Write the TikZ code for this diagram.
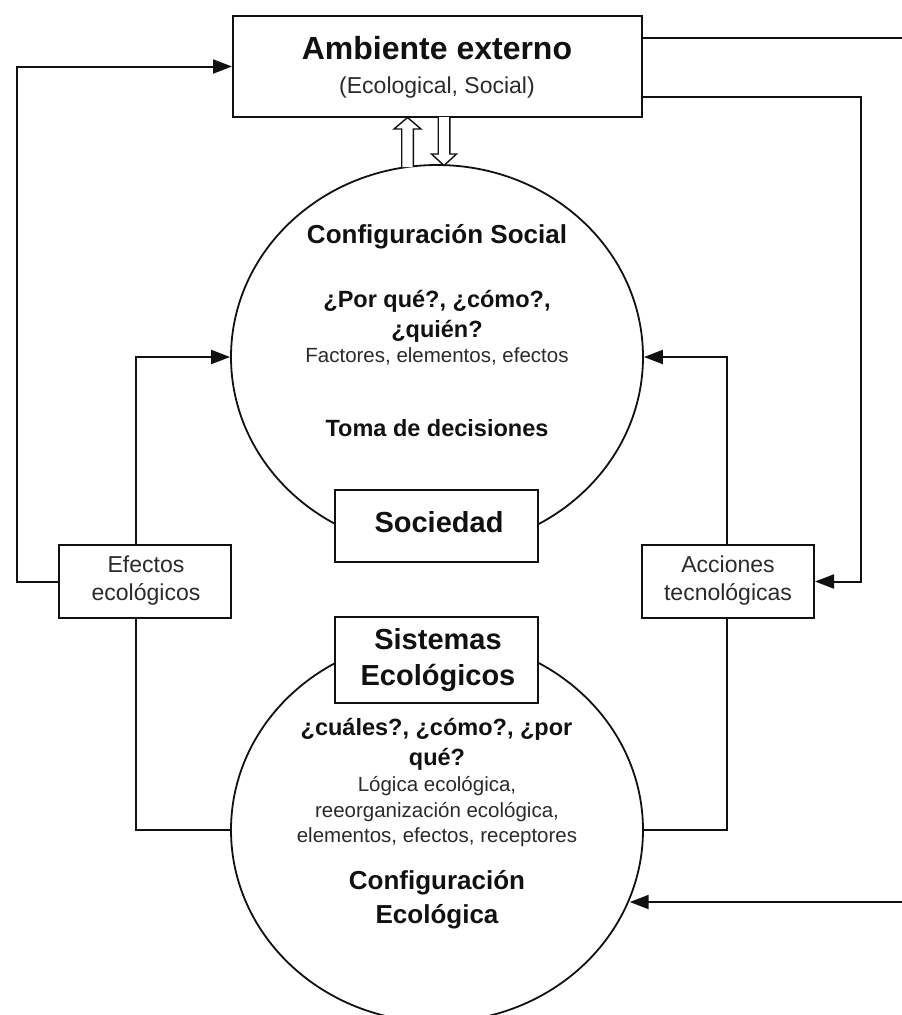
\documentclass[tikz,border=0pt]{standalone}
\usepackage{fontspec}
\setmainfont{Liberation Sans}
\usetikzlibrary{arrows.meta,shapes.geometric}
\definecolor{ink}{HTML}{111111}
\definecolor{txtreg}{HTML}{2A2A2A}
\newcommand{\fs}[1]{\fontsize{#1}{#1}\selectfont}
\begin{document}
\begin{tikzpicture}[x=1pt,y=-1pt,
  box/.style={draw=ink, line width=2pt, fill=white, rectangle, inner sep=0pt},
  oval/.style={draw=ink, ellipse, line width=1.8pt, inner sep=0pt, minimum width=412pt, minimum height=384pt},
  conn/.style={draw=ink, line width=2pt},
  arr/.style={conn, -{Triangle[length=19pt,width=14pt]}},
  hollow/.style={draw=ink, line width=1.4pt, fill=white, line join=miter},
  tb/.style={anchor=base, inner sep=0pt, text=ink, font=\bfseries},
  tr/.style={anchor=base, inner sep=0pt, text=txtreg},
]
\useasboundingbox (0,0) rectangle (902,1015);

% ellipses
\node[oval] (soc) at (437,357) {};
\node[oval] (eco) at (437,830) {};

% helper coordinates
\coordinate (lx) at (136,0);
\coordinate (rx) at (727,0);
\coordinate (l1) at (17,0);
\coordinate (r1) at (902,38);
\coordinate (r2) at (861,97);
\coordinate (r3) at (902,902);

% boxes
\node[box, minimum width=409pt, minimum height=101pt] (amb) at (437.5,66.5) {};
\node[box, minimum width=203pt, minimum height=72pt] (sociedad) at (436.5,526) {};
\node[box, minimum width=203pt, minimum height=86pt] (sistemas) at (436.5,660) {};
\node[box, minimum width=172pt, minimum height=73pt] (efe) at (145,581.5) {};
\node[box, minimum width=172pt, minimum height=73pt] (acc) at (728,581.5) {};

% connectors
\draw[conn] (amb.east |- r1) -- (r1);
\draw[arr] (amb.east |- r2) -- (r2) |- (acc.east);
\draw[arr] (efe.west) -| (l1 |- amb.west) -- (amb.west);
\draw[arr] (lx |- efe.north) |- (soc.west);
\draw[conn] (lx |- efe.south) |- (eco.west);
\draw[arr] (rx |- acc.north) |- (soc.east);
\draw[conn] (rx |- acc.south) |- (eco.east);
\draw[arr] (r3) -- (r3 -| eco.-20.65);

% hollow double arrows between amb and soc
\draw[hollow] (401.7,167) -- (401.7,129) -- (394,129) -- (407.5,117.5) -- (421,129) -- (413.3,129) -- (413.3,167);
\draw[hollow] (438.2,117) -- (438.2,154) -- (431.5,154) -- (444,165.5) -- (456.5,154) -- (449.8,154) -- (449.8,117);

% texts: top box
\node[tb, font=\bfseries\fs{32}] (t1) at (437,59) {Ambiente externo};
\node[tr, font=\fs{23}] (t2) at (437,93) {(Ecological, Social)};

% texts: social ellipse
\node[tb, font=\bfseries\fs{26}] (t3) at (437,243) {Configuración Social};
\node[tb, font=\bfseries\fs{23.5}] (t4) at (437,307) {¿Por qué?, ¿cómo?,};
\node[tb, font=\bfseries\fs{23.5}] (t5) at (437,337) {¿quién?};
\node[tr, font=\fs{20.5}] (t6) at (437,362) {Factores, elementos, efectos};
\node[tb, font=\bfseries\fs{23.5}] (t7) at (437,436) {Toma de decisiones};
\node[tb, font=\bfseries\fs{29}] (t8) at (439,532) {Sociedad};

% texts: ecological
\node[tb, font=\bfseries\fs{29}] (t9) at (438,649) {Sistemas};
\node[tb, font=\bfseries\fs{29}] (t10) at (438,685) {Ecológicos};
\node[tb, font=\bfseries\fs{23.5}] (t11) at (436.5,735) {¿cuáles?, ¿cómo?, ¿por};
\node[tb, font=\bfseries\fs{23.5}] (t12) at (437,765) {qué?};
\node[tr, font=\fs{20.5}] (t13) at (437,791) {Lógica ecológica,};
\node[tr, font=\fs{20.5}] (t14) at (437,817) {reeorganización ecológica,};
\node[tr, font=\fs{20.5}] (t15) at (437,842) {elementos, efectos, receptores};
\node[tb, font=\bfseries\fs{26}] (t16) at (437,889) {Configuración};
\node[tb, font=\bfseries\fs{26}] (t17) at (437,923) {Ecológica};

% side boxes
\node[tr, font=\fs{23}] (t18) at (146,572) {Efectos};
\node[tr, font=\fs{23}] (t19) at (146,600) {ecológicos};
\node[tr, font=\fs{23}] (t20) at (728,572) {Acciones};
\node[tr, font=\fs{23}] (t21) at (728,600) {tecnológicas};
\end{tikzpicture}
\end{document}
